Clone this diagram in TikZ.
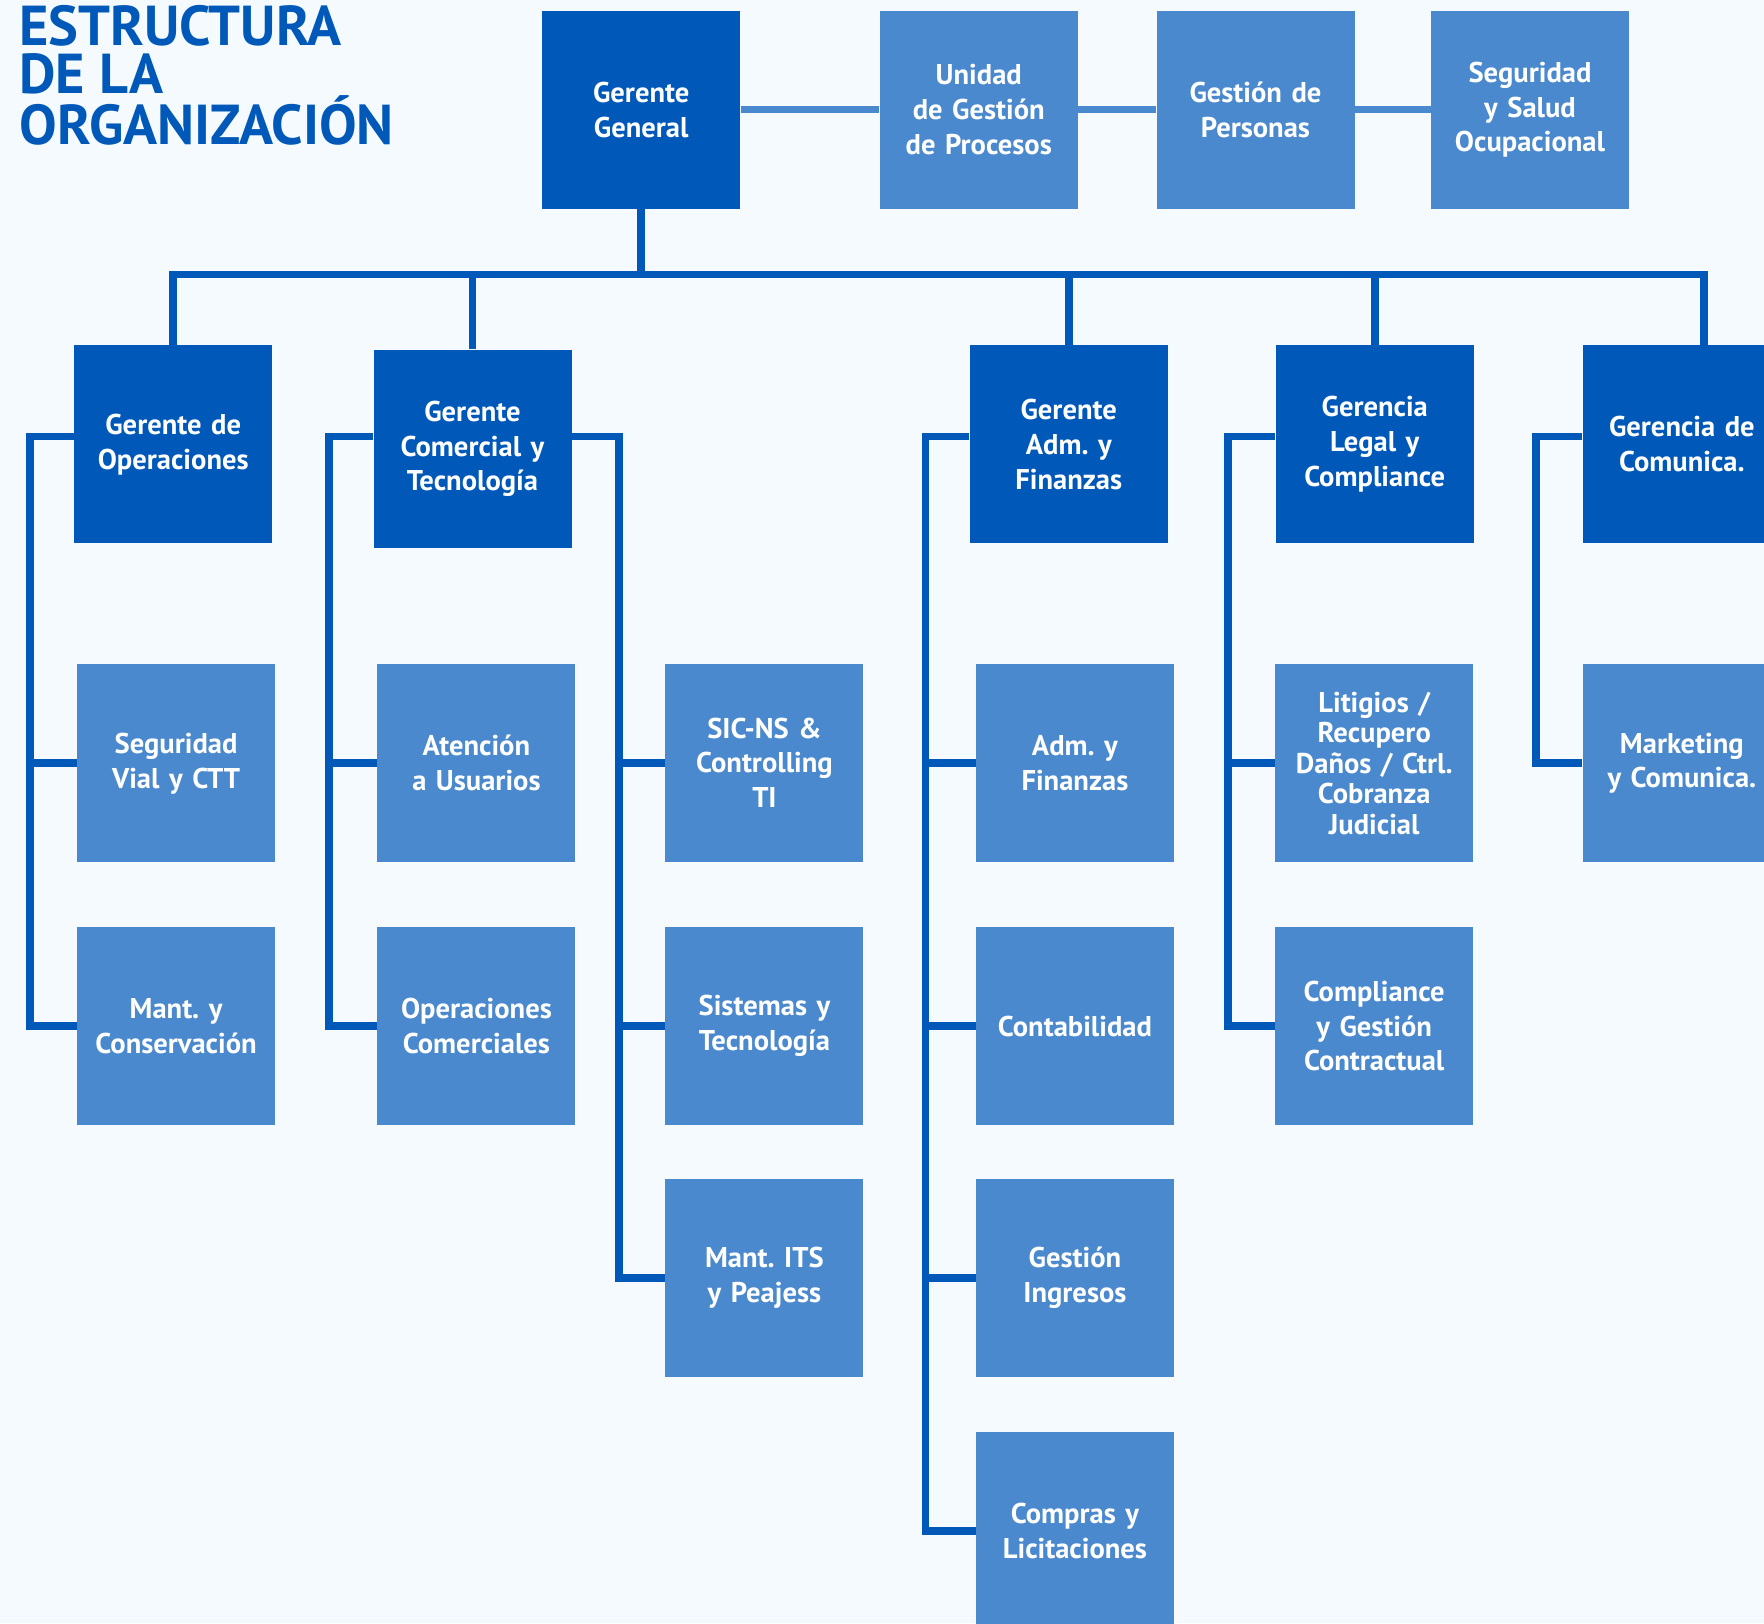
\documentclass[tikz,border=0pt]{standalone}
\usepackage{fontspec}
\setmainfont{PT Sans}
\frenchspacing
\definecolor{orgdark}{HTML}{0058B8}
\definecolor{orglight}{HTML}{4A89CD}
\definecolor{orgbg}{HTML}{F5FAFE}
\tikzset{
  jefe/.style={fill=orgdark, text=white, font=\bfseries\fontsize{12.7}{15.5}\selectfont,
    minimum width=88pt, minimum height=88pt, inner sep=0pt, text width=86pt, align=center},
  area/.style={jefe, fill=orglight},
  enlace/.style={draw=orgdark, line width=3.5pt},
  enlaceclaro/.style={draw=orglight, line width=3pt},
  titulo/.style={text=orgdark, font=\bfseries\fontsize{25}{21.3}\selectfont, align=left, inner sep=0pt, anchor=north west}
}
\begin{document}
\begin{tikzpicture}[x=0.5pt,y=-0.5pt]
\useasboundingbox (0,0) rectangle (1568,1443);
\clip (0,0) rectangle (1568,1443);
\fill[orgbg] (0,0) rectangle (1568,1443);

\node[titulo] (titulo) at (17,4) {ESTRUCTURA\\DE LA\\ORGANIZACIÓN};

% fila superior
\node[jefe] (gg) at (570,97.5) {Gerente\\General};
\node[area] (ugp) at (870,97.5) {Unidad\\de Gestión\\de Procesos};
\node[area] (gp) at (1116,97.5) {Gestión de\\Personas};
\node[area] (sso) at (1360,97.5) {Seguridad\\y Salud\\Ocupacional};

% gerencias
\node[jefe] (ops) at (154,395) {Gerente de\\Operaciones};
\node[jefe] (com) at (420,399) {Gerente\\Comercial y\\Tecnología};
\node[jefe] (adm) at (950,395) {Gerente\\Adm. y\\Finanzas};
\node[jefe] (leg) at (1222,395) {Gerencia\\Legal y\\Compliance};
\node[jefe] (comu) at (1495,395) {Gerencia de\\Comunica.};

% areas
\node[area] (svial) at (156.5,678.5) {Seguridad\\Vial y CTT};
\node[area] (mant) at (156.5,912) {Mant. y\\Conservación};
\node[area] (aten) at (423.5,678.5) {Atención\\a Usuarios};
\node[area] (opcom) at (423.5,912) {Operaciones\\Comerciales};
\node[area] (sic) at (679.5,678) {SIC-NS \&\\Controlling\\TI};
\node[area] (sist) at (679.5,912) {Sistemas y\\Tecnología};
\node[area] (its) at (679.5,1136) {Mant. ITS\\y Peajess};
\node[area] (afin) at (955.5,678) {Adm. y\\Finanzas};
\node[area] (cont) at (955.5,912) {Contabilidad};
\node[area] (ging) at (955.5,1136) {Gestión\\Ingresos};
\node[area] (compras) at (955.5,1361) {Compras y\\Licitaciones};
\node[area, font=\bfseries\fontsize{12.7}{13.5}\selectfont] (lit) at (1221.5,678.5) {Litigios /\\Recupero\\Daños / Ctrl.\\Cobranza\\Judicial};
\node[area] (compl) at (1221.5,912) {Compliance\\y Gestión\\Contractual};
\node[area] (mkt) at (1495,678.5) {Marketing\\y Comunica.};

% conectores
\draw[enlaceclaro] (gg) -- (ugp);
\draw[enlaceclaro] (ugp) -- (gp);
\draw[enlaceclaro] (gp) -- (sso);

\coordinate (barra) at (0,244);
\coordinate (comuTop) at ([xshift=10pt]comu.north);
\draw[enlace] (gg.south) -- (gg.south |- barra);
\draw[enlace] (ops.north) |- (comuTop |- barra) -- (comuTop);
\draw[enlace] (com.north) -- (com.north |- barra);
\draw[enlace] (adm.north) -- (adm.north |- barra);
\draw[enlace] (leg.north) -- (leg.north |- barra);

\draw[enlace] ([yshift=3.5pt]ops.west) -- ++(-39,0) coordinate (opsB) |- (mant.west);
\draw[enlace] (opsB |- svial.west) -- (svial.west);

\draw[enlace] ([yshift=5.5pt]com.west) -- ++(-39,0) coordinate (comB) |- (opcom.west);
\draw[enlace] (comB |- aten.west) -- (aten.west);
\draw[enlace] ([yshift=5.5pt]com.east) -- ++(42,0) coordinate (comR) |- (its.west);
\draw[enlace] (comR |- sic.west) -- (sic.west);
\draw[enlace] (comR |- sist.west) -- (sist.west);

\draw[enlace] ([yshift=3.5pt]adm.west) -- ++(-39,0) coordinate (admB) |- (compras.west);
\draw[enlace] (admB |- afin.west) -- (afin.west);
\draw[enlace] (admB |- cont.west) -- (cont.west);
\draw[enlace] (admB |- ging.west) -- (ging.west);

\draw[enlace] ([yshift=3.5pt]leg.west) -- ++(-42,0) coordinate (legB) |- (compl.west);
\draw[enlace] (legB |- lit.west) -- (lit.west);

\draw[enlace] ([yshift=3.5pt]comu.west) -- ++(-41,0) |- (mkt.west);
\end{tikzpicture}
\end{document}
